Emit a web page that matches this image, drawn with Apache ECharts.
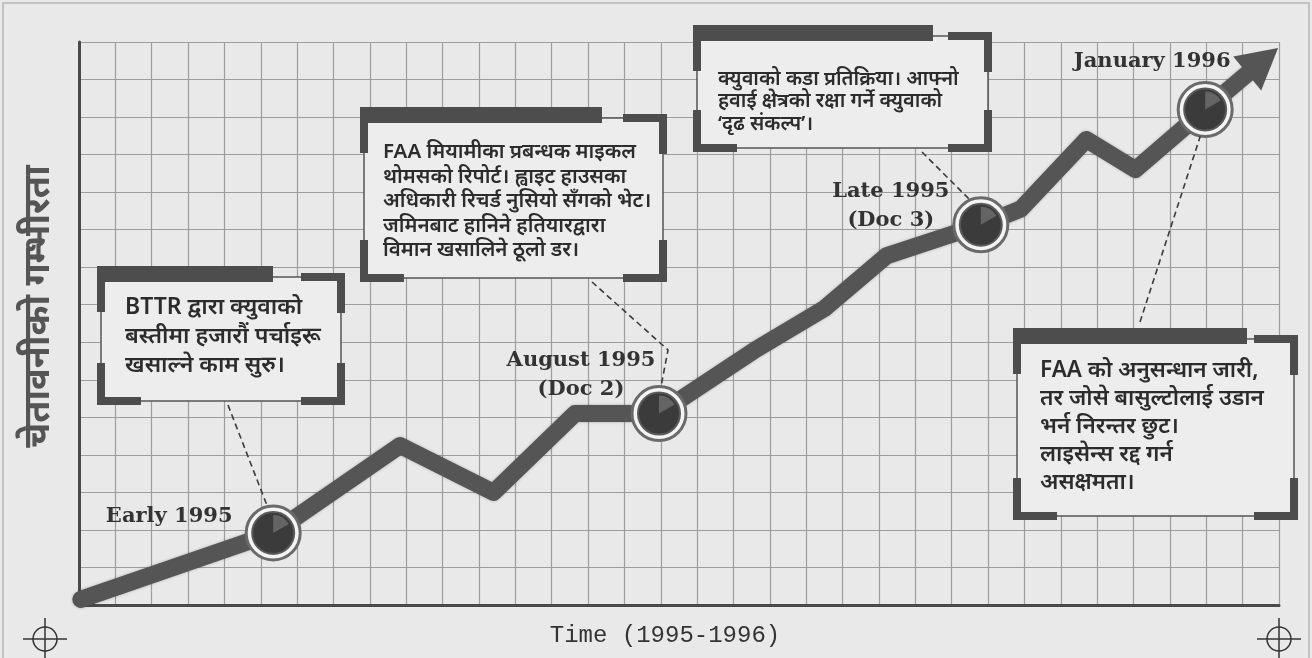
<!DOCTYPE html>
<html><head><meta charset="utf-8">
<script src="https://cdn.jsdelivr.net/npm/echarts@6/dist/echarts.min.js"></script>
<style>html,body{margin:0;padding:0;background:#e9e9e9;}#c{width:1312px;height:658px;}</style>
</head><body><div id="c"></div>
<script>
// ---- data ----
const timeX    = [0.05, 5.34, 8.83, 11.4, 13.64, 15.95, 18.6, 20.5, 22.2, 24.8, 25.9, 27.7, 29.05, 30.97, 32.55];
const severity = [0.15, 1.92, 4.25, 3.0, 5.1, 5.1, 6.8, 7.9, 9.3, 10.13, 10.55, 12.4, 11.6, 13.2, 14.5];
const markerX = [5.34, 15.95, 24.8, 30.97];
const markerY = [1.92, 5.1, 10.13, 13.2];
const markerLabels = ['Early 1995', 'August 1995\n(Doc 2)', 'Late 1995\n(Doc 3)', 'January 1996'];
const xAxisName = 'Time (1995-1996)';
const yAxisName = 'चेतावनीको गम्भीरता';
const noteTexts = [
  'BTTR द्वारा क्युवाको\nबस्तीमा हजारौं पर्चाइरू\nखसाल्ने काम सुरु।',
  'FAA मियामीका प्रबन्धक माइकल\nथोमसको रिपोर्ट। ह्वाइट हाउसका\nअधिकारी रिचर्ड नुसियो सँगको भेट।\nजमिनबाट हानिने हतियारद्वारा\nविमान खसालिने ठूलो डर।',
  'क्युवाको कडा प्रतिक्रिया। आफ्नो\nहवाई क्षेत्रको रक्षा गर्ने क्युवाको\n‘दृढ संकल्प’।',
  'FAA को अनुसन्धान जारी,\nतर जोसे बासुल्टोलाई उडान\nभर्न निरन्तर छुट।\nलाइसेन्स रद्द गर्न\nअसक्षमता।'
];

// ---- layout (styling only) ----
const labelOffsets = [[-104, -16], [-78, -39], [-90, -19], [-53, -48]];
const boxes = [
  {L: 97,   T: 266, R: 345,  B: 405, bar: 273,  tx: 125,  ty: 293, lh: 29,   fs: 23},
  {L: 360,  T: 107, R: 667,  B: 282, bar: 602,  tx: 383,  ty: 140, lh: 24.5, fs: 20.5},
  {L: 693,  T: 25,  R: 992,  B: 152, bar: 933,  tx: 718,  ty: 68,  lh: 22.5, fs: 20},
  {L: 1013, T: 328, R: 1298, B: 520, bar: 1247, tx: 1040, ty: 357, lh: 28,   fs: 22.5}
];
const leaderStarts = [[[228, 405]], [[592, 282], [668, 350]], [[922, 152]], [[1140, 322]]];
const leaderEndOffsets = [[-6, -27], [2, -27], [-12, -26], [-5, 27]];

const DEV = "'Noto Sans', 'Noto Sans Devanagari', sans-serif";
const chart = echarts.init(document.getElementById('c'), null, {renderer: 'canvas'});

const lineData = timeX.map((x, i) => [x, severity[i]]);
const markerData = markerX.map((x, i) => [x, markerY[i]]);
const last = lineData[lineData.length - 1];

function boxEls(b) {
  const c = '#4d4d4d', t = 8;
  const fl = b.L + 4, fr = b.R - 4, ft = b.T + 11, fb = b.B - 4;
  const r = (x, y, w, h) => ({type: 'rect', shape: {x, y, width: w, height: h}, style: {fill: c}, z: 101});
  return [
    {type: 'rect', shape: {x: fl, y: ft, width: fr - fl, height: fb - ft}, style: {fill: '#ededed', stroke: '#555', lineWidth: 1.5}, z: 100},
    r(b.L, b.T, b.bar - b.L, 16),
    r(b.L, b.T, t, 46),
    r(b.R - 44, ft - 4, 44, t),
    r(b.R - t, ft - 4, t, 40),
    r(b.L, b.B - 42, t, 42),
    r(b.L, b.B - t, 44, t),
    r(b.R - t, b.B - 42, t, 42),
    r(b.R - 44, b.B - t, 44, t)
  ];
}

function crosshair(cx, cy) {
  return [
    {type: 'circle', shape: {cx, cy, r: 12}, style: {fill: 'none', stroke: '#333', lineWidth: 1.5}, z: 50},
    {type: 'line', shape: {x1: cx - 22, y1: cy, x2: cx + 22, y2: cy}, style: {stroke: '#333', lineWidth: 1.5}, z: 50},
    {type: 'line', shape: {x1: cx, y1: cy - 21, x2: cx, y2: cy + 21}, style: {stroke: '#333', lineWidth: 1.5}, z: 50}
  ];
}

const option = {
  backgroundColor: '#e9e9e9',
  animation: false,
  grid: {left: 79, right: 33, top: 42, bottom: 53},
  xAxis: {
    type: 'value', min: 0, max: 33, interval: 1,
    axisLabel: {show: false}, axisTick: {show: false},
    axisLine: {show: true, lineStyle: {color: '#4a4a4a', width: 3}},
    splitLine: {show: true, lineStyle: {color: '#9d9d9d', width: 1.2}},
    name: xAxisName, nameLocation: 'middle', nameGap: 19,
    nameTextStyle: {fontFamily: "'Liberation Mono', monospace", fontSize: 24, color: '#333', padding: [0, 28, 0, 0]}
  },
  yAxis: {
    type: 'value', min: 0, max: 15, interval: 1,
    axisLabel: {show: false}, axisTick: {show: false},
    axisLine: {show: true, lineStyle: {color: '#4a4a4a', width: 3}},
    splitLine: {show: true, lineStyle: {color: '#9d9d9d', width: 1.2}},
    name: yAxisName, nameLocation: 'middle', nameGap: 22, nameRotate: 90,
    nameTextStyle: {fontFamily: DEV, fontSize: 36, fontWeight: 'bold', color: '#555', padding: [0, 0, 0, 34]}
  },
  series: [
    {
      type: 'line', data: lineData, symbol: 'none', z: 3,
      lineStyle: {color: '#555', width: 17, cap: 'round', join: 'round', shadowColor: 'rgba(0,0,0,0.25)', shadowBlur: 3}
    },
    {
      type: 'scatter', data: [last], symbol: 'triangle', symbolSize: [44, 40], z: 4,
      symbolRotate: -50.5,
      itemStyle: {color: '#555', opacity: 1}
    },
    {
      type: 'scatter', data: markerData, symbol: 'circle', symbolSize: 54, z: 5,
      itemStyle: {color: '#f4f4f4', borderColor: '#6a6a6a', borderWidth: 3, opacity: 1},
      label: {
        show: true, position: 'inside',
        formatter: p => markerLabels[p.dataIndex],
        fontFamily: "'DejaVu Serif', serif", fontSize: 21, fontWeight: 'bold', color: '#333', lineHeight: 29, align: 'center'
      },
      labelLayout: p => ({dx: labelOffsets[p.dataIndex][0], dy: labelOffsets[p.dataIndex][1]})
    },
    {
      type: 'scatter', data: markerData, symbol: 'circle', symbolSize: 42, z: 6,
      itemStyle: {color: '#3b3b3b', borderColor: '#5a5a5a', borderWidth: 2, opacity: 1}
    },
    {
      type: 'scatter', data: markerData, symbol: 'path://M0,0 M20,20 M10,10 L10,0 A10,10 0 0,1 18.66,5 Z', symbolSize: 36, z: 7,
      itemStyle: {color: 'rgba(150,150,150,0.45)', opacity: 1}
    }
  ],
  graphic: []
};
chart.setOption(option);

// annotation graphics
const g = [];
g.push({type: 'rect', shape: {x: 3, y: 3, width: 1306, height: 660}, style: {fill: 'none', stroke: '#b5b5b5', lineWidth: 1.5}, z: 1, silent: true});
g.push(...crosshair(45, 639), ...crosshair(1279, 639));
markerData.forEach((m, i) => {
  const p = chart.convertToPixel({gridIndex: 0}, m);
  const end = [p[0] + leaderEndOffsets[i][0], p[1] + leaderEndOffsets[i][1]];
  g.push({type: 'polyline', shape: {points: [...leaderStarts[i], end]}, style: {fill: 'none', stroke: '#3a3a3a', lineWidth: 1.6, lineDash: [6, 4]}, z: 99});
});
boxes.forEach((b, i) => {
  g.push(...boxEls(b));
  g.push({type: 'text', x: b.tx, y: b.ty, z: 102, style: {text: noteTexts[i], fontFamily: DEV, fontSize: b.fs, fontWeight: 600, fill: '#2c2c2c', lineHeight: b.lh, verticalAlign: 'top'}});
});
chart.setOption({graphic: g});
</script></body></html>
